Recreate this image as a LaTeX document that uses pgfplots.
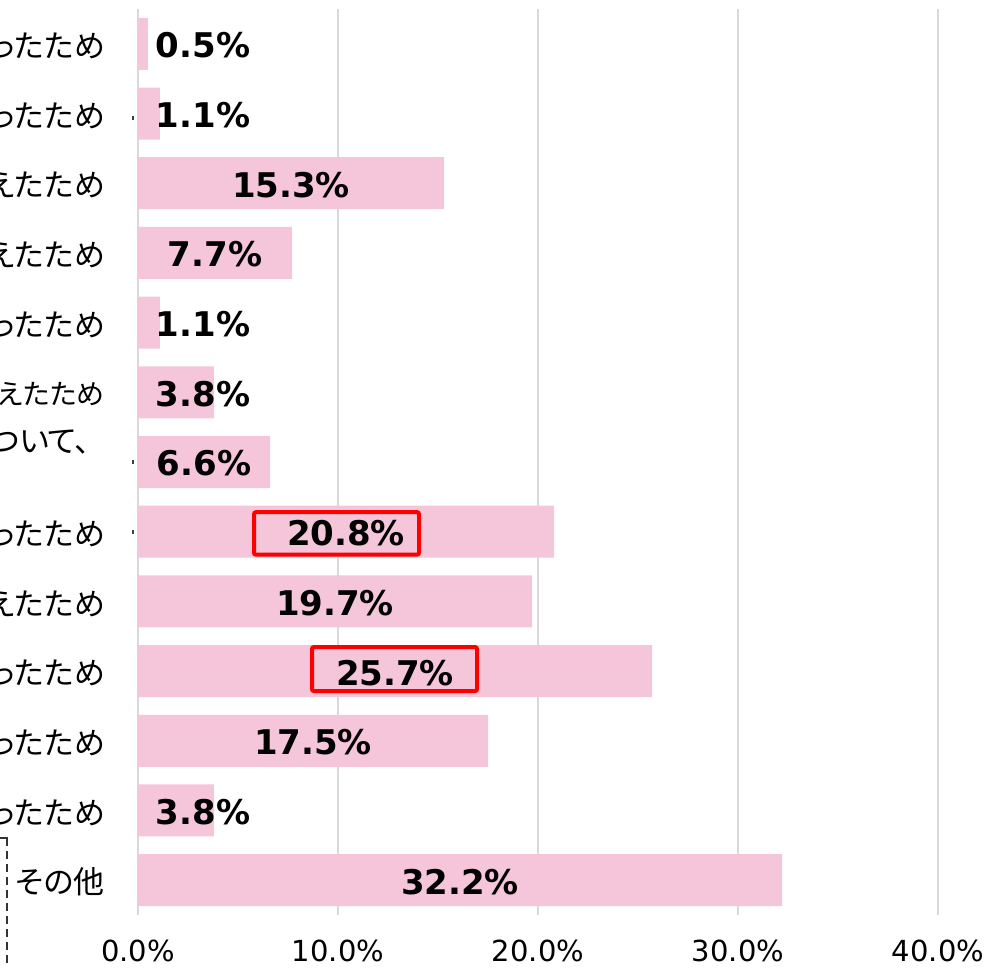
\documentclass[border=0pt]{standalone}
\usepackage{fontspec}
\setmainfont{DejaVu Sans}
\newfontfamily\jp[RawFeature=+palt]{Noto Sans CJK JP}
\usepackage{pgfplots}
\usepackage{pgfplotstable}
\pgfplotsset{compat=1.18}
\definecolor{barpink}{HTML}{F5C6D9}
\definecolor{gridgray}{HTML}{D9D9D9}

\pgfplotstableread{
y val
0 0.5
1 1.1
2 15.3
3 7.7
4 1.1
5 3.8
6 6.6
7 20.8
8 19.7
9 25.7
10 17.5
11 3.8
12 32.2
}\bardata

\pgfplotstableread{
y x lab
0 3.25 0.5\%
1 3.25 1.1\%
2 7.65 15.3\%
3 3.85 7.7\%
4 3.25 1.1\%
5 3.25 3.8\%
6 3.30 6.6\%
7 10.40 20.8\%
8 9.85 19.7\%
9 12.85 25.7\%
10 8.75 17.5\%
11 3.25 3.8\%
12 16.10 32.2\%
}\labdata

\begin{document}
\begin{tikzpicture}
\useasboundingbox (0,0) rectangle (493pt,484pt);
\clip (0,0) rectangle (493pt,484pt);
\begin{axis}[
  at={(69pt,26.5pt)}, anchor=south west,
  scale only axis, width=400pt, height=453pt,
  xmin=0, xmax=40, ymin=-0.5, ymax=12.5, y dir=reverse,
  axis line style={draw=none},
  xmajorgrids, grid style={gridgray, line width=0.9pt},
  major tick length=0pt,
  xtick={0,10,20,30,40},
  xticklabels={0.0\%,10.0\%,20.0\%,30.0\%,40.0\%},
  xticklabel style={font=\fontsize{14.5pt}{16pt}\selectfont, anchor=base, inner sep=0pt, yshift=-23pt},
  ytick={0,...,12},
  yticklabels={
    {かったため},
    {かったため},
    {えたため},
    {えたため},
    {ったため},
    {\fontsize{14pt}{16pt}\selectfont えたため},
    {\raisebox{11pt}[\height][\depth]{ついて、\hspace{0.45em}}},
    {かったため},
    {えたため},
    {ったため},
    {ったため},
    {ったため},
    {その他}},
  yticklabel style={font=\jp\fontsize{15.5pt}{17pt}\selectfont, anchor=east, inner sep=0pt, xshift=-16.5pt, yshift=-1pt},
  clip=false,
]
\addplot[xbar, bar width=26pt, bar shift=0pt, fill=barpink, draw=none] table[x=val, y=y] {\bardata};
\addplot[draw=none, mark=none, nodes near coords, point meta=explicit symbolic,
  every node near coord/.style={anchor=center, font=\bfseries\fontsize{17pt}{19pt}\selectfont, text=black, yshift=-0.8pt}]
  table[x=x, y=y, meta=lab] {\labdata};
\draw[red, line width=2pt, rounded corners=1pt] (axis cs:5.8,6.72) rectangle (axis cs:14.05,7.33);
\draw[red, line width=2pt, rounded corners=1pt] (axis cs:8.7,8.655) rectangle (axis cs:16.95,9.287);
\end{axis}
\draw[line width=0.8pt, black!80, dash pattern=on 4pt off 2.5pt] (3.5pt,65pt) -- (3.5pt,0pt);
\draw[line width=0.8pt, black!80] (0pt,65pt) -- (3.8pt,65pt);
\fill[black!75] (66pt,424pt) rectangle (67pt,426pt);
\fill[black!75] (66pt,252pt) rectangle (67pt,254pt);
\fill[black!75] (66pt,217pt) rectangle (67pt,219pt);
\end{tikzpicture}
\end{document}
